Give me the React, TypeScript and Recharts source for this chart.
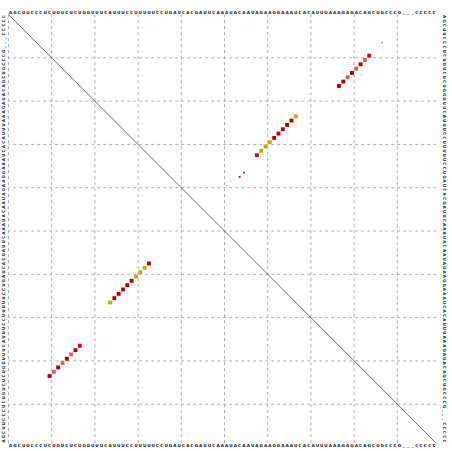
import React from 'react';
import { ScatterChart, Scatter, XAxis, YAxis, ReferenceLine } from 'recharts';

// Sequence (tick labels), written in the chunks
const seqChunks = ['AG','CUU','CCC','UCU','GUC','UCUG','GUU','UCA','UUU','CCU','UUU','UCC','UGA','UCAC','GAU','UCA','AAU','ACA','AUA','GAA','GGA','AAUC','ACA','UUU','AAA','GAG','ACA','GCU','GCC','CG','___','CC','CCC'];
const sequence = seqChunks.join('');
const positions = Array.from(sequence).map((_, i) => i + 1);

// MFE structure (lower-left triangle): column, row, colour class
const mfeCols = [10, 11, 12, 13, 14, 15, 16, 17, 24, 25, 26, 27, 28, 29, 30, 31, 32, 33];
const mfeRows = [84, 83, 82, 81, 80, 79, 78, 77, 67, 66, 65, 64, 63, 62, 61, 60, 59, 58];
const mfeTypes = ['d','p','d','p','d','p','d','r','y','d','d','d','d','d','y','y','y','d'];

// Pair probabilities (upper-right triangle): column, row, probability, colour class
const probCols = [58, 59, 60, 61, 62, 63, 64, 65, 66, 67, 51, 52, 54, 55, 69, 70, 77, 78, 79, 80, 81, 82, 83, 84, 87];
const probRows = [33, 32, 31, 30, 29, 28, 27, 26, 25, 24, 40, 39, 38, 37, 20, 19, 17, 16, 15, 14, 13, 12, 11, 10, 7];
const probValues = [1, 1, 1, 1, 1, 1, 1, 1, 1, 1, 0.06, 0.06, 0.2, 0.2, 0.04, 0.04, 1, 1, 1, 1, 1, 1, 1, 1, 0.12];
const probTypes = ['r','y','y','y','d','d','d','d','d','y','p','y','d','r','y','y','d','d','p','d','p','d','p','r','p'];

const palette: Record<string, string> = {
  d: '#b40000',
  r: '#c8101c',
  p: '#d8606c',
  y: '#bab400',
};

const mfeData = mfeCols.map((c, i) => ({ col: c, row: mfeRows[i], p: 1, t: mfeTypes[i] }));
const probData = probCols.map((c, i) => ({ col: c, row: probRows[i], p: probValues[i], t: probTypes[i] }));

const gridX = [0.5, 10.5, 20.5, 30.5, 40.5, 50.5, 60.5, 70.5, 80.5, 90.5];
const gridY = [10.5, 20.5, 30.5, 40.5, 50.5, 60.5, 70.5, 80.5, 90.5];

const N = sequence.length;
const domain: [number, number] = [0.5, N + 0.5];

const font = { fontFamily: 'DejaVu Sans, sans-serif', fontSize: 4.2, fontWeight: 700, fill: '#151515' };

const TopTick = (props: any) => {
  const { x, y, payload } = props;
  return <text x={x} y={y - 2.4} textAnchor="middle" dominantBaseline="central" {...font}>{sequence[payload.value - 1]}</text>;
};
const BottomTick = (props: any) => {
  const { x, y, payload } = props;
  return <text x={x} y={y + 2.2} textAnchor="middle" dominantBaseline="central" {...font}>{sequence[payload.value - 1]}</text>;
};
const RightTick = (props: any) => {
  const { x, y, payload } = props;
  const cx = x + 7.8;
  return <text x={cx} y={y} textAnchor="middle" dominantBaseline="central" transform={`rotate(90, ${cx}, ${y})`} {...font}>{sequence[payload.value - 1]}</text>;
};
const LeftTick = (props: any) => {
  const { x, y, payload } = props;
  const cx = x - 4.8;
  return <text x={cx} y={y} textAnchor="middle" dominantBaseline="central" transform={`rotate(-90, ${cx}, ${y})`} {...font}>{sequence[payload.value - 1]}</text>;
};

const Square = (props: any) => {
  const { cx, cy, payload } = props;
  if (cx == null || cy == null) return null;
  const s = 3.9 * Math.sqrt(payload.p);
  return <rect x={cx - s / 2} y={cy - s / 2} width={s} height={s} fill={palette[payload.t]} />;
};

export default function App() {
  return (
    <div style={{ position: 'absolute', left: 0, top: 0, background: '#fff' }}>
      <ScatterChart width={452} height={451} margin={{ top: 13.5, right: 14.8, bottom: 6.8, left: 7.5 }}>
        <XAxis xAxisId="b" dataKey="col" type="number" domain={domain} ticks={positions} interval={0}
          orientation="bottom" height={1} axisLine={false} tickLine={false} tickSize={0} tickMargin={0}
          tick={<BottomTick />} allowDataOverflow />
        <XAxis xAxisId="t" dataKey="col" type="number" domain={domain} ticks={positions} interval={0}
          orientation="top" height={1} axisLine={false} tickLine={false} tickSize={0} tickMargin={0}
          tick={<TopTick />} allowDataOverflow />
        <YAxis yAxisId="r" dataKey="row" type="number" domain={domain} ticks={positions} interval={0} reversed
          orientation="right" width={1} axisLine={false} tickLine={false} tickSize={0} tickMargin={0}
          tick={<RightTick />} allowDataOverflow />
        <YAxis yAxisId="l" dataKey="row" type="number" domain={domain} ticks={positions} interval={0}
          orientation="left" width={1} axisLine={false} tickLine={false} tickSize={0} tickMargin={0}
          tick={<LeftTick />} allowDataOverflow />
        {gridX.map((v) => (
          <ReferenceLine key={'gx' + v} xAxisId="b" yAxisId="r" x={v} stroke="#b0b0b0" strokeWidth={1} strokeDasharray="3 3" />
        ))}
        {gridY.map((v) => (
          <ReferenceLine key={'gy' + v} xAxisId="b" yAxisId="r" y={v} stroke="#b0b0b0" strokeWidth={1} strokeDasharray="3 3" />
        ))}
        <ReferenceLine xAxisId="b" yAxisId="r" segment={[{ x: domain[0], y: domain[0] }, { x: domain[1], y: domain[1] }]}
          stroke="#333" strokeWidth={0.7} />
        <Scatter xAxisId="b" yAxisId="r" data={mfeData} shape={Square} isAnimationActive={false} />
        <Scatter xAxisId="b" yAxisId="r" data={probData} shape={Square} isAnimationActive={false} />
      </ScatterChart>
    </div>
  );
}
